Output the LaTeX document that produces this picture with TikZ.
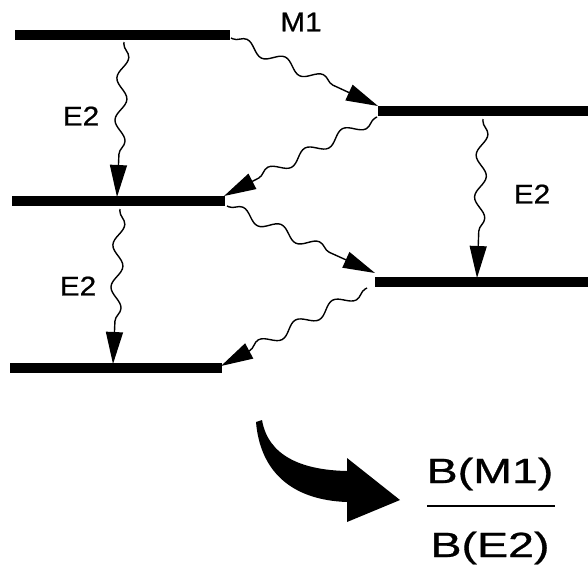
\documentclass[tikz,border=0pt]{standalone}
\usepackage{fontspec}
\setmainfont{Liberation Sans}
\newfontfamily\scanfont{Liberation Sans}[FakeBold=0.7]
\usetikzlibrary{decorations.pathmorphing,arrows.meta}

\tikzset{
  level/.style={line width=10pt},
  trans/.style={line width=1.4pt, decorate,
    decoration={snake, segment length=42pt, amplitude=5.5pt, pre length=2pt, post length=30pt},
    -{Triangle[length=32pt,width=17pt]}},
  lbl/.style={font=\scanfont\fontsize{27}{27}\selectfont, xscale=1.1, transform shape},
  frac/.style={font=\scanfont\fontsize{35}{35}\selectfont, xscale=1.33, transform shape, inner sep=0pt},
}

\begin{document}
\begin{tikzpicture}[x=1pt, y=-1pt]
      \useasboundingbox (0,0) rectangle (588,576);

      % levels, left band
      \draw[level] (15,35) -- (230,35);
      \draw[level] (12,201) -- (225,201);
      \draw[level] (10,368) -- (222,368);
      % levels, right band
      \draw[level] (378,111) -- (588,111);
      \draw[level] (375,282) -- (588,282);

      % ends of the transitions
      \coordinate (m1s) at (231,38);
      \coordinate (m1e) at (378,106);
      \coordinate (r1s) at (377,117);
      \coordinate (l2e) at (224,196);
      \coordinate (l2s) at (227,206);
      \coordinate (r2e) at (375,273);
      \coordinate (r2s) at (367,288);
      \coordinate (l3e) at (221,366);
      \coordinate (ea1s) at (124,42);
      \coordinate (ea1e) at (117,197);
      \coordinate (ea2s) at (120,209);
      \coordinate (ea2e) at (113,364);
      \coordinate (eb1s) at (483,119);
      \coordinate (eb1e) at (477,278);

      \draw[trans] (m1s) -- (m1e);
      \draw[trans] (r1s) -- (l2e);
      \draw[trans] (l2s) -- (r2e);
      \draw[trans] (r2s) -- (l3e);
      \draw[trans] (ea1s) -- (ea1e);
      \draw[trans] (ea2s) -- (ea2e);
      \draw[trans] (eb1s) -- (eb1e);

      \node[lbl] (m1) at (301,22) {M1};
      \node[lbl] (e2a) at (81,116) {E2};
      \node[lbl] (e2b) at (78,286) {E2};
      \node[lbl] (e2c) at (532,194) {E2};

      % big arrow
      \fill (262,420) .. controls (268,455) and (300,470) .. (347,471)
        -- (347,458) -- (400,500) -- (347,522) -- (347,502)
        .. controls (290,500) and (260,470) .. (256,422) -- cycle;

      % ratio
      \node[frac, anchor=base] (num) at (490,483) {B(M1)};
      \node[frac, anchor=base] (den) at (490,557) {B(E2)};
      \draw[line width=2pt] (427,506) -- (555,506);
    \end{tikzpicture}
\end{document}
